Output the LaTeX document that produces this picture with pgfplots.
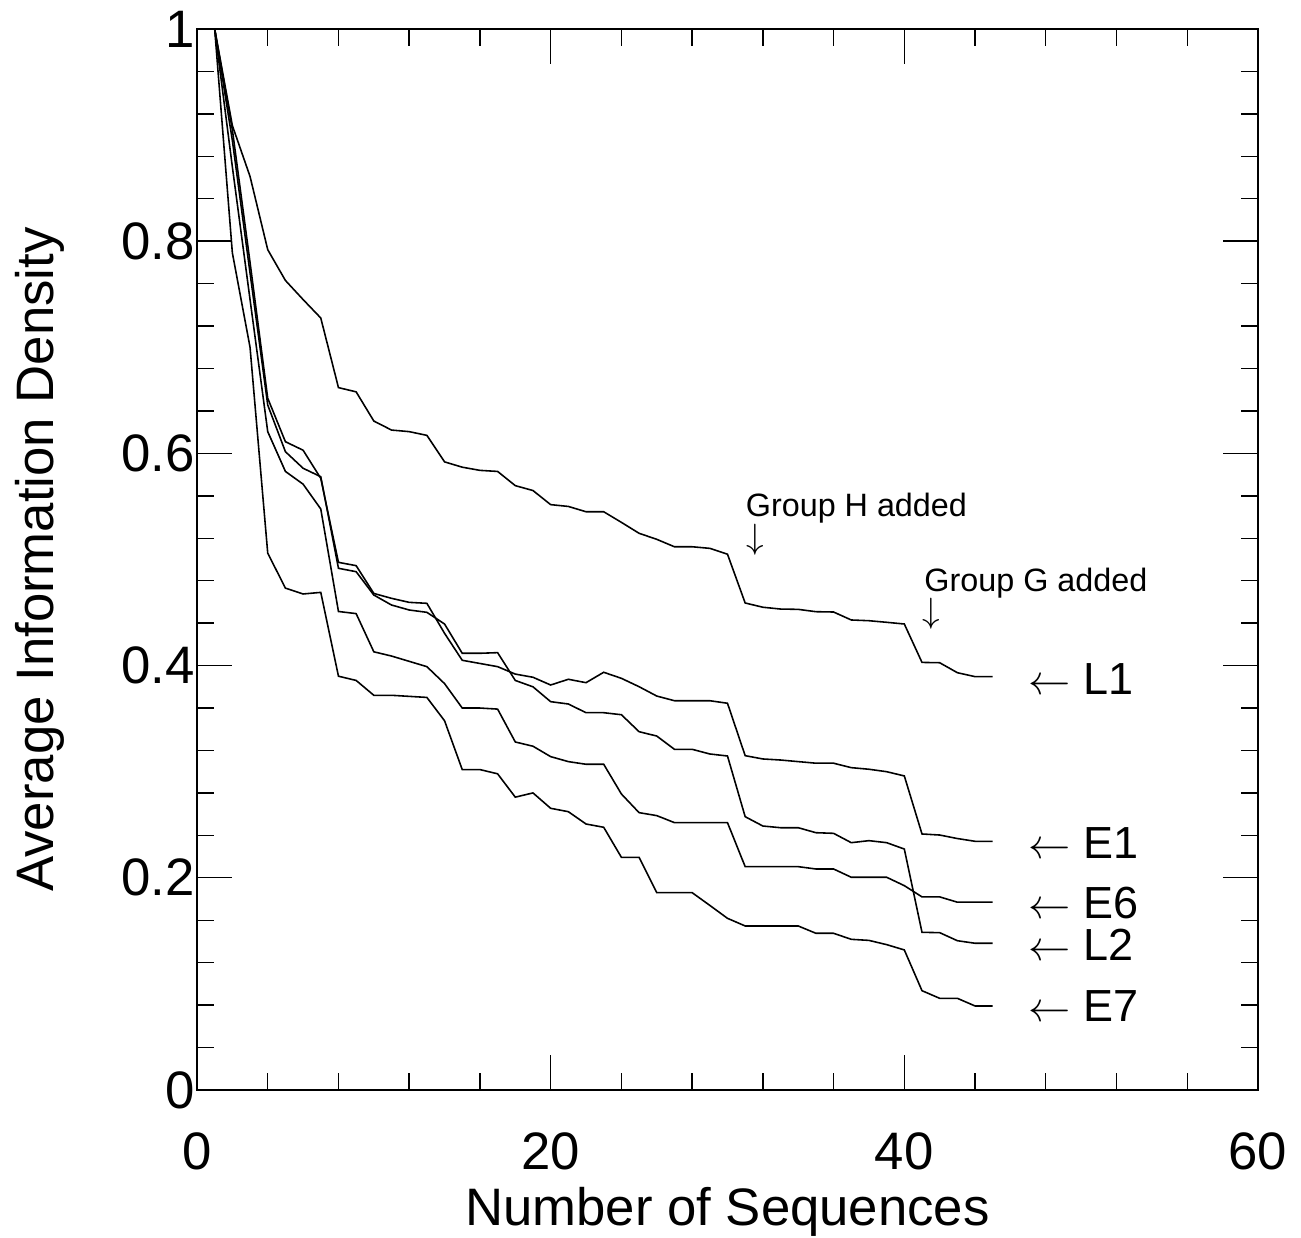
\documentclass[border=0pt]{standalone}
\usepackage{fontspec}
\setmainfont{Liberation Sans}
\usepackage{pgfplots}
\pgfplotsset{compat=1.18}
\usepackage{pgfplotstable}

% average information density per number of sequences
\pgfplotstableread{
n  L1     E1     L2     E6     E7
1  1.000  1.000  1.000  1.000  1.000
2  0.909  0.905  0.895  0.870  0.789
3  0.861  0.780  0.770  0.745  0.700
4  0.792  0.652  0.6456 0.6205 0.506
5  0.763  0.611  0.6016 0.583  0.473
6  0.745  0.603  0.586  0.571  0.4675
7  0.7276 0.5765 0.578  0.5476 0.469
8  0.662  0.4973 0.4917 0.451  0.390
9  0.658  0.4942 0.4885 0.449  0.386
10 0.6305 0.468  0.4665 0.413  0.372
11 0.622  0.4634 0.4571 0.409  0.372
12 0.6205 0.4596 0.4524 0.404  0.371
13 0.617  0.4587 0.4502 0.399  0.370
14 0.592  0.4304 0.4392 0.383  0.348
15 0.587  0.405  0.4116 0.360  0.302
16 0.584  0.402  0.4116 0.360  0.302
17 0.583  0.399  0.4122 0.359  0.298
18 0.5696 0.392  0.386  0.328  0.276
19 0.565  0.389  0.380  0.324  0.280
20 0.5517 0.3817 0.366  0.3142 0.2655
21 0.550  0.3871 0.3638 0.3095 0.2623
22 0.545  0.3839 0.3556 0.307  0.2507
23 0.545  0.3937 0.3556 0.307  0.2476
24 0.535  0.388  0.3537 0.279  0.2193
25 0.5247 0.3801 0.3377 0.2614 0.2193
26 0.519  0.3713 0.3336 0.2586 0.186
27 0.512  0.3669 0.3211 0.252  0.186
28 0.512  0.3669 0.3211 0.252  0.186
29 0.5105 0.3669 0.3167 0.252  0.174
30 0.505  0.3645 0.3148 0.252  0.1618
31 0.459  0.3151 0.2576 0.2105 0.1546
32 0.455  0.312  0.2488 0.2105 0.1546
33 0.4533 0.311  0.2472 0.2105 0.1546
34 0.453  0.3095 0.2472 0.2105 0.1546
35 0.4508 0.308  0.2425 0.2083 0.1477
36 0.4505 0.308  0.2419 0.2083 0.1477
37 0.443  0.3038 0.2331 0.2005 0.142
38 0.4423 0.3023 0.235  0.2005 0.141
39 0.4408 0.300  0.2331 0.2005 0.137
40 0.4392 0.296  0.2271 0.1926 0.132
41 0.403  0.2413 0.1486 0.182  0.0936
42 0.4027 0.2403 0.1483 0.182  0.0864
43 0.3933 0.237  0.1407 0.177  0.0864
44 0.3896 0.2344 0.1383 0.177  0.0792
45 0.3896 0.2344 0.1383 0.177  0.0792
}\densitydata

\begin{document}
\begin{tikzpicture}
\begin{axis}[
    scale only axis,
    width=10.61cm,
    height=10.61cm,
    xmin=0, xmax=60,
    ymin=0, ymax=1,
    xtick={0,20,40,60},
    ytick={0,0.2,0.4,0.6,0.8,1},
    minor x tick num=4,
    minor y tick num=4,
    major tick length=0.35cm,
    minor tick length=0.17cm,
    tick align=inside,
    tick pos=both,
    /pgf/number format/assume math mode=true,
    ticklabel style={font=\fontsize{15}{18}\selectfont},
    yticklabel style={xshift=0.1cm},
    xticklabel style={yshift=-0.3cm},
    xlabel={Number of Sequences},
    ylabel={Average Information Density},
    label style={font=\fontsize{15}{18}\selectfont},
    xlabel style={at={(axis description cs:0.5,0)}, anchor=base, yshift=-1.36cm},
    ylabel style={at={(axis description cs:-0.1357,0.5)}, anchor=base},
    axis line style={line width=0.5pt},
    every tick/.style={black, line width=0.4pt},
]
\addplot[black, line width=0.45pt, mark=none] table[x=n, y=L1] {\densitydata};
\addplot[black, line width=0.45pt, mark=none] table[x=n, y=E1] {\densitydata};
\addplot[black, line width=0.45pt, mark=none] table[x=n, y=L2] {\densitydata};
\addplot[black, line width=0.45pt, mark=none] table[x=n, y=E6] {\densitydata};
\addplot[black, line width=0.45pt, mark=none] table[x=n, y=E7] {\densitydata};

\node[anchor=base west, inner sep=0, font=\fontsize{9.2}{11}\selectfont] at (axis cs:31.0,0.5404) {Group H added};
\node[inner sep=0, font=\fontsize{9.6}{11}\selectfont] at (axis cs:31.56,0.519) {$\downarrow$};
\node[anchor=base west, inner sep=0, font=\fontsize{9.2}{11}\selectfont] at (axis cs:41.1,0.4697) {Group G added};
\node[inner sep=0, font=\fontsize{9.6}{11}\selectfont] at (axis cs:41.55,0.4485) {$\downarrow$};

\node[anchor=base west, inner sep=0, font=\fontsize{12.8}{15}\selectfont] at (axis cs:47.0,0.3732) {$\leftarrow$ L1};
\node[anchor=base west, inner sep=0, font=\fontsize{12.8}{15}\selectfont] at (axis cs:47.0,0.2184) {$\leftarrow$ E1};
\node[anchor=base west, inner sep=0, font=\fontsize{12.8}{15}\selectfont] at (axis cs:47.0,0.1618) {$\leftarrow$ E6};
\node[anchor=base west, inner sep=0, font=\fontsize{12.8}{15}\selectfont] at (axis cs:47.0,0.1219) {$\leftarrow$ L2};
\node[anchor=base west, inner sep=0, font=\fontsize{12.8}{15}\selectfont] at (axis cs:47.0,0.0644) {$\leftarrow$ E7};
\end{axis}
\pgfresetboundingbox
\useasboundingbox (-1.97,-1.48) rectangle (11.04,10.90);
\end{tikzpicture}
\end{document}
